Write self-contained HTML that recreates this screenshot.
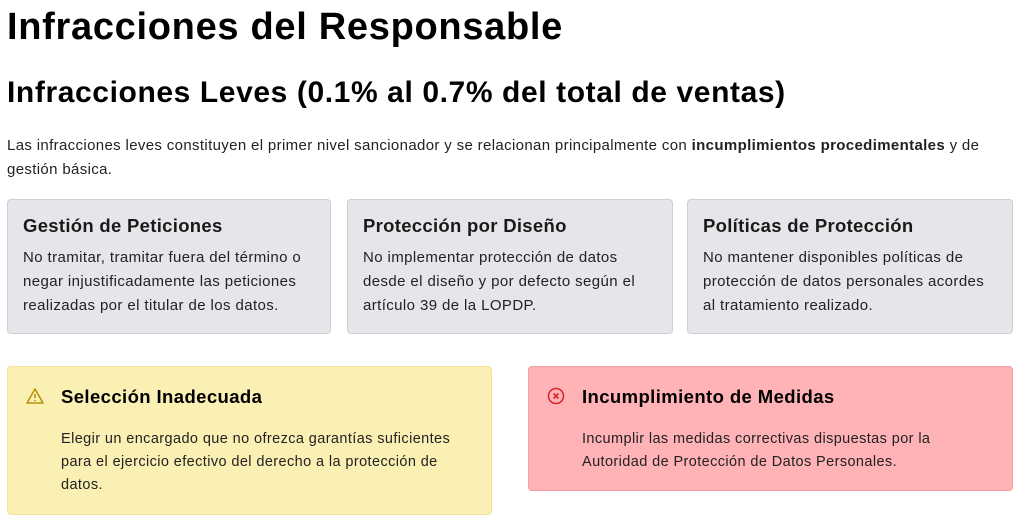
<!DOCTYPE html>
<html><head><meta charset="utf-8"><style>
*{margin:0;padding:0;box-sizing:border-box}
body{width:1024px;height:521px;background:#fff;font-family:"Liberation Sans",sans-serif;color:#1a1a1a;position:relative;overflow:hidden}
.a{position:absolute}
h1{position:absolute;left:7px;top:6px;font-size:38px;font-weight:bold;color:#000;letter-spacing:0.7px;white-space:nowrap}
h2{position:absolute;left:7px;top:76px;font-size:30px;font-weight:bold;color:#000;letter-spacing:0.6px;white-space:nowrap}
.p{left:7px;top:134px;width:1000px;font-size:15px;line-height:24px;color:#222;letter-spacing:0.35px}
.card{position:absolute;top:199px;height:135px;background:#e6e6ea;border:1px solid #cfcfd4;border-radius:4px;padding:14px 15px}
.card b{display:block;font-size:18.5px;color:#1a1a1a;margin-bottom:8px;line-height:24px;letter-spacing:0.3px}
.card div{font-size:15px;line-height:24px;color:#222;letter-spacing:0.4px}
.box{position:absolute;top:366px;border-radius:4px;padding:18px 25px 0 53px}
.box b{display:block;font-size:18.5px;line-height:24px;color:#000;margin-bottom:19px;letter-spacing:0.4px}
.box div{font-size:14.5px;line-height:23px;color:#222;letter-spacing:0.4px}
.ic{position:absolute;left:18px;top:20px}
</style></head><body>
<h1>Infracciones del Responsable</h1>
<h2>Infracciones Leves (0.1% al 0.7% del total de ventas)</h2>
<div class="a p">Las infracciones leves constituyen el primer nivel sancionador y se relacionan principalmente con <b>incumplimientos procedimentales</b> y de gestión básica.</div>
<div class="card" style="left:7px;width:324px"><b>Gestión de Peticiones</b><div>No tramitar, tramitar fuera del término o negar injustificadamente las peticiones realizadas por el titular de los datos.</div></div>
<div class="card" style="left:347px;width:326px"><b>Protección por Diseño</b><div>No implementar protección de datos desde el diseño y por defecto según el artículo 39 de la LOPDP.</div></div>
<div class="card" style="left:687px;width:326px"><b>Políticas de Protección</b><div>No mantener disponibles políticas de protección de datos personales acordes al tratamiento realizado.</div></div>
<div class="box" style="left:7px;width:485px;height:149px;background:#fbf0b4;border:1px solid #f3e39a">
<svg class="ic" width="18" height="18" viewBox="0 0 18 18"><path d="M9 2L17 16H1Z" fill="none" stroke="#b8940c" stroke-width="1.6" stroke-linejoin="round"/><line x1="9" y1="7" x2="9" y2="11" stroke="#b8940c" stroke-width="1.6"/><circle cx="9" cy="13.5" r="0.9" fill="#b8940c"/></svg>
<b>Selección Inadecuada</b><div>Elegir un encargado que no ofrezca garantías suficientes para el ejercicio efectivo del derecho a la protección de datos.</div></div>
<div class="box" style="left:528px;width:485px;height:125px;background:#ffb3b6;border:1px solid #f59ca0">
<svg class="ic" width="18" height="18" viewBox="0 0 18 18"><circle cx="9" cy="9" r="7.5" fill="none" stroke="#d42a2a" stroke-width="1.6"/><path d="M6.5 6.5L11.5 11.5M11.5 6.5L6.5 11.5" stroke="#d42a2a" stroke-width="1.6"/></svg>
<b>Incumplimiento de Medidas</b><div>Incumplir las medidas correctivas dispuestas por la Autoridad de Protección de Datos Personales.</div></div>
</body></html>
